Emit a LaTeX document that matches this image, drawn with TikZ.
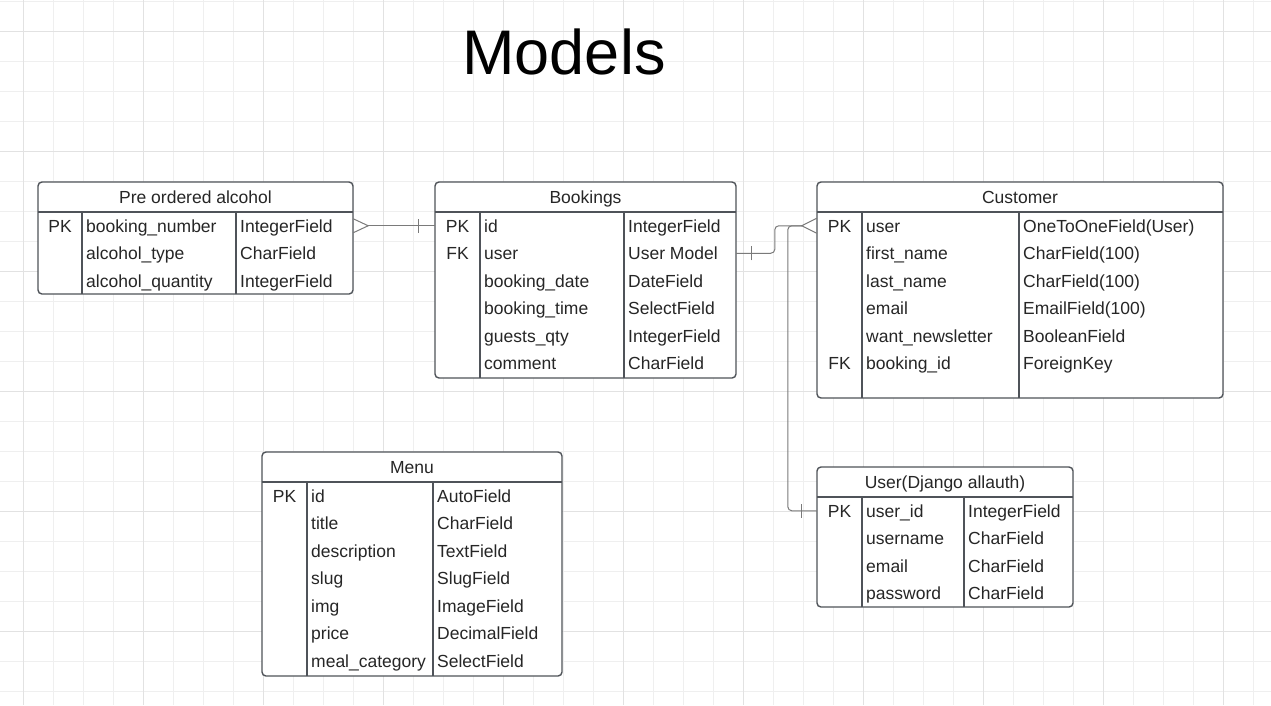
\documentclass[tikz,border=0pt]{standalone}
\usepackage{fontspec}
\setmainfont{Liberation Sans}
\usetikzlibrary{calc}
\definecolor{gridminor}{HTML}{EFEFEF}
\definecolor{gridmajor}{HTML}{E2E2E2}
\definecolor{framegray}{HTML}{4F5359}
\definecolor{ink}{HTML}{262626}
\definecolor{wire}{HTML}{7A7A7A}
\tikzstyle{tbl} = [draw=framegray, line width=1.4pt, rounded corners=4pt, fill=white]
\tikzstyle{tblrule} = [draw=framegray, line width=1.4pt]
\tikzstyle{cell} = [inner sep=0pt, text=ink, font=\fontsize{17.5}{20}\selectfont]
\tikzstyle{rowbox} = [inner sep=0pt, minimum height=27.5pt]
\tikzstyle{conn} = [draw=wire, line width=1pt]
% #1 name, #2 left, #3 top, #4 1st divider, #5 2nd divider, #6 right, #7 bottom, #8 title, #9 rows
\newcommand{\ertable}[9]{%
  \draw[tbl] (#2,#3) rectangle (#6,#7);
  \draw[tblrule] (#2,#3+30) -- (#6,#3+30);
  \draw[tblrule] (#4,#3+30) -- (#4,#7);
  \draw[tblrule] (#5,#3+30) -- (#5,#7);
  \node[cell, anchor=base] (#1-head) at ({(#2+#6)/2},#3+21) {#8};
  \foreach \k/\f/\t [count=\i] in {#9} {
    \node[rowbox, minimum width={(#6-#2)*1pt}] (#1-r\i) at ({(#2+#6)/2},{#3+43.75+27.5*(\i-1)}) {};
    \node[cell, anchor=base] (#1-k\i) at ({(#2+#4)/2},{#3+50+27.5*(\i-1)}) {\k};
    \node[cell, anchor=base west] (#1-f\i) at ({#4+4},{#3+50+27.5*(\i-1)}) {\f};
    \node[cell, anchor=base west] (#1-t\i) at ({#5+4},{#3+50+27.5*(\i-1)}) {\t};
  }%
}
\begin{document}
\begin{tikzpicture}[x=1pt, y=-1pt]
  \useasboundingbox (0,0) rectangle (1271,705);
  \fill[white] (0,0) rectangle (1271,705);
  % grid
  \foreach \x in {23,53,...,1271} \draw[gridminor, line width=0.8pt] (\x,0) -- (\x,705);
  \foreach \y in {1,31,...,705} \draw[gridminor, line width=0.8pt] (0,\y) -- (1271,\y);
  \foreach \x in {23,143,...,1271} \draw[gridmajor, line width=0.9pt] (\x,0) -- (\x,705);
  \foreach \y in {31,151,...,705} \draw[gridmajor, line width=0.9pt] (0,\y) -- (1271,\y);

  \node[font=\fontsize{63}{63}\selectfont, anchor=base] (title) at (564,74) {Models};

  \ertable{pa}{38}{182}{82}{236}{353}{294}{Pre ordered alcohol}{PK/booking\_number/IntegerField, /alcohol\_type/CharField, /alcohol\_quantity/IntegerField}
  \ertable{bk}{435}{182}{480}{624}{736}{378}{Bookings}{PK/id/IntegerField, FK/user/User Model, /booking\_date/DateField, /booking\_time/SelectField, /guests\_qty/IntegerField, /comment/CharField}
  \ertable{cu}{817}{182}{862}{1019}{1223}{398}{Customer}{PK/user/OneToOneField(User), /first\_name/CharField(100), /last\_name/CharField(100), /email/EmailField(100), /want\_newsletter/BooleanField, FK/booking\_id/ForeignKey}
  \ertable{mn}{262}{452}{307}{433}{562}{676}{Menu}{PK/id/AutoField, /title/CharField, /description/TextField, /slug/SlugField, /img/ImageField, /price/DecimalField, /meal\_category/SelectField}
  \ertable{us}{817}{467}{862}{964}{1073}{607}{User(Django allauth)}{PK/user\_id/IntegerField, /username/CharField, /email/CharField, /password/CharField}

  % alcohol -> bookings
  \draw[conn] ([yshift=-7pt]pa-r1.east) -- ([xshift=15pt]pa-r1.east) -- ([yshift=7pt]pa-r1.east);
  \draw[conn] ([xshift=15pt]pa-r1.east) -- (bk-r1.west);
  \draw[conn] ([xshift=-16pt,yshift=-7pt]bk-r1.west) -- ([xshift=-16pt,yshift=7pt]bk-r1.west);
  % bookings -> customer
  \draw[conn, rounded corners=4pt] (bk-r2.east) -| ([xshift=-42pt]cu-r1.west) -- ([xshift=-15pt]cu-r1.west);
  \draw[conn] ([yshift=7.5pt]cu-r1.west) -- ([xshift=-15pt]cu-r1.west) -- ([yshift=-7.5pt]cu-r1.west);
  \draw[conn] ([xshift=15pt,yshift=-7pt]bk-r2.east) -- ([xshift=15pt,yshift=7pt]bk-r2.east);
  % customer -> user
  \draw[conn, rounded corners=4pt] ([xshift=-15pt]cu-r1.west) -- ([xshift=-29pt]cu-r1.west) |- (us-r1.west);
  \draw[conn] ([xshift=-15pt,yshift=-7pt]us-r1.west) -- ([xshift=-15pt,yshift=7pt]us-r1.west);
\end{tikzpicture}
\end{document}
